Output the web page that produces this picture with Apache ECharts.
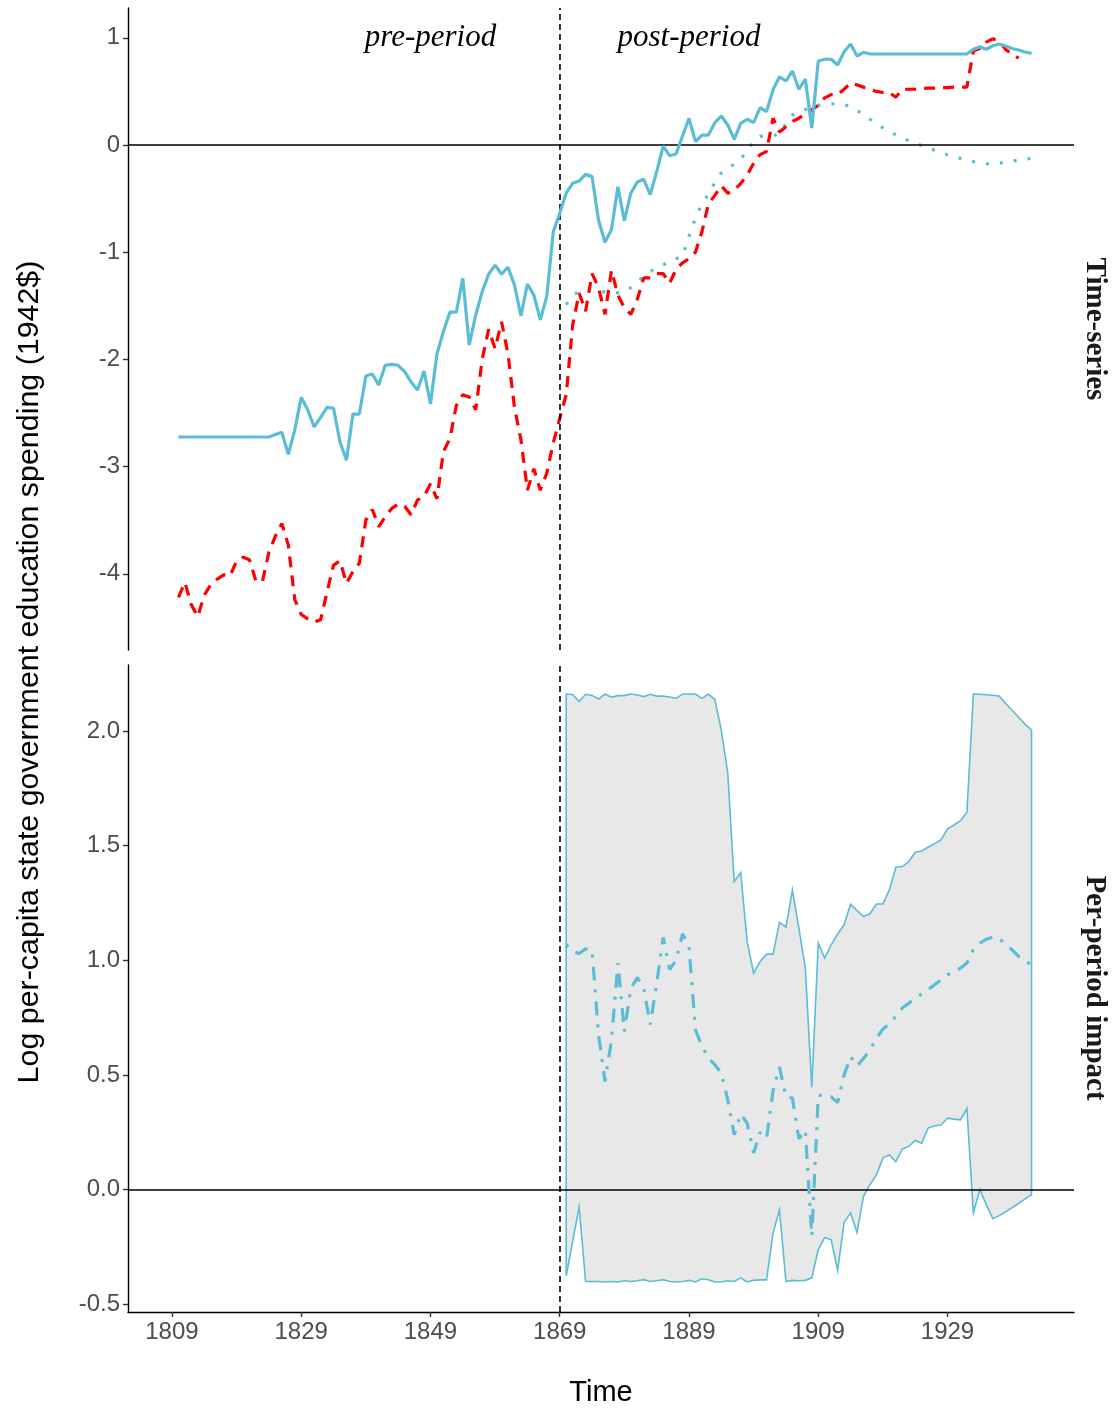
<!DOCTYPE html>
<html>
<head>
<meta charset="utf-8">
<script src="https://cdn.jsdelivr.net/npm/echarts@6/dist/echarts.min.js"></script>
<style>
html,body{margin:0;padding:0;background:#fff;}
#chart{width:1114px;height:1410px;}
</style>
</head>
<body>
<div id="chart"></div>
<script>
// ---- data ----
const xTicks = [1809, 1829, 1849, 1869, 1889, 1909, 1929];
const topTicks = [-4, -3, -2, -1, 0, 1];
const bottomTicks = [-0.5, 0, 0.5, 1, 1.5, 2];
const treatmentYear = 1869;

// Top panel: treated unit (solid blue), 1810-1942
const treatedStart = 1810;
const treated = [
  -2.724,-2.724,-2.724,-2.724,-2.724,-2.724,-2.724,-2.724,-2.724,-2.724,
  -2.724,-2.724,-2.724,-2.724,-2.724,-2.70,-2.68,-2.885,-2.66,-2.354,
  -2.47,-2.63,-2.54,-2.447,-2.456,-2.77,-2.94,-2.51,-2.51,-2.155,
  -2.136,-2.24,-2.055,-2.046,-2.055,-2.114,-2.21,-2.285,-2.108,-2.416,
  -1.95,-1.74,-1.56,-1.56,-1.244,-1.866,-1.586,-1.368,-1.206,-1.12,
  -1.206,-1.14,-1.306,-1.595,-1.297,-1.40,-1.632,-1.41,-0.81,-0.637,
  -0.45,-0.357,-0.336,-0.274,-0.295,-0.70,-0.908,-0.79,-0.389,-0.706,
  -0.45,-0.345,-0.32,-0.463,-0.25,-0.01,-0.10,-0.084,0.084,0.249,
  0.031,0.093,0.093,0.208,0.27,0.187,0.053,0.202,0.24,0.208,
  0.348,0.311,0.515,0.637,0.597,0.69,0.52,0.614,0.158,0.784,
  0.80,0.80,0.746,0.87,0.942,0.83,0.865,0.849,0.849,0.849,
  0.849,0.849,0.849,0.849,0.849,0.849,0.849,0.849,0.849,0.849,
  0.849,0.849,0.849,0.893,0.917,0.893,0.926,0.942,0.923,0.90,
  0.886,0.868,0.855
];

// Top panel: synthetic comparison (red dashed), 1810-1940
const syntheticStart = 1810;
const synthetic = [
  -4.22,-4.08,-4.29,-4.40,-4.20,-4.10,-4.05,-4.01,-4.02,-3.88,
  -3.845,-3.87,-4.07,-4.07,-3.80,-3.65,-3.53,-3.73,-4.24,-4.38,
  -4.42,-4.45,-4.43,-4.17,-3.92,-3.88,-4.09,-3.98,-3.90,-3.50,
  -3.40,-3.56,-3.47,-3.39,-3.35,-3.37,-3.45,-3.31,-3.28,-3.16,
  -3.30,-2.86,-2.74,-2.43,-2.33,-2.35,-2.47,-2.00,-1.72,-1.90,
  -1.65,-1.95,-2.45,-2.75,-3.22,-3.02,-3.22,-3.06,-2.78,-2.55,
  -2.33,-1.68,-1.38,-1.55,-1.20,-1.33,-1.58,-1.17,-1.40,-1.52,
  -1.58,-1.44,-1.24,-1.24,-1.20,-1.20,-1.29,-1.16,-1.10,-1.06,
  -1.00,-0.81,-0.55,-0.47,-0.38,-0.45,-0.42,-0.36,-0.28,-0.17,
  -0.09,-0.06,0.25,0.12,0.17,0.22,0.25,0.29,0.33,0.37,
  0.44,0.47,0.47,0.52,0.58,0.56,0.54,0.52,0.50,0.49,
  0.49,0.445,0.52,0.52,0.52,0.525,0.53,0.53,0.535,0.535,
  0.54,0.54,0.54,0.88,0.90,0.96,0.99,0.97,0.89,0.85,
  0.81
];

// Top panel: counterfactual prediction (blue dotted), 1870-1942
const predictedStart = 1870;
const predicted = [
  -1.49,-1.40,-1.37,-1.36,-1.36,-1.37,-1.37,-1.38,-1.38,-1.37,
  -1.33,-1.28,-1.22,-1.18,-1.15,-1.12,-1.08,-1.06,-1.04,-0.85,
  -0.68,-0.55,-0.46,-0.35,-0.26,-0.21,-0.18,-0.13,-0.06,0.04,
  0.08,0.085,0.09,0.10,0.20,0.28,0.30,0.33,0.36,0.37,
  0.38,0.385,0.38,0.375,0.36,0.32,0.29,0.24,0.20,0.16,
  0.13,0.095,0.062,0.04,0.017,-0.005,-0.027,-0.05,-0.07,-0.092,
  -0.108,-0.125,-0.145,-0.155,-0.163,-0.175,-0.178,-0.17,-0.16,-0.15,
  -0.14,-0.132,-0.125
];

// Bottom panel: per-period impact (dot-dash) and interval bounds, 1870-1942
const impactStart = 1870;
const impact = [
  1.068,1.040,1.030,1.050,1.045,0.678,0.472,0.65,0.988,0.69,
  0.878,0.925,0.88,0.72,0.90,1.10,0.96,1.00,1.115,1.06,
  0.697,0.625,0.574,0.545,0.508,0.392,0.24,0.33,0.29,0.16,
  0.25,0.225,0.43,0.535,0.405,0.40,0.222,0.26,-0.203,0.41,
  0.415,0.405,0.38,0.50,0.58,0.54,0.572,0.61,0.66,0.70,
  0.723,0.755,0.792,0.813,0.835,0.853,0.872,0.894,0.915,0.937,
  0.951,0.966,0.988,1.046,1.075,1.092,1.101,1.096,1.068,1.046,
  1.017,0.998,0.98
];
const upperBound = [
  2.161,2.159,2.128,2.160,2.155,2.139,2.161,2.147,2.154,2.154,
  2.161,2.157,2.150,2.160,2.152,2.152,2.148,2.142,2.161,2.161,
  2.161,2.142,2.161,2.138,2.004,1.815,1.343,1.383,1.082,0.944,
  0.995,1.027,1.027,1.166,1.145,1.307,1.140,0.966,0.447,1.075,
  1.010,1.068,1.115,1.155,1.245,1.217,1.191,1.203,1.246,1.246,
  1.307,1.406,1.409,1.430,1.471,1.477,1.493,1.509,1.525,1.573,
  1.590,1.609,1.646,2.161,2.160,2.158,2.156,2.152,2.120,2.090,
  2.060,2.030,2.004
];
const lowerBound = [
  -0.375,-0.225,-0.075,-0.400,-0.400,-0.400,-0.402,-0.400,-0.402,-0.397,
  -0.400,-0.397,-0.392,-0.400,-0.397,-0.392,-0.400,-0.402,-0.400,-0.395,
  -0.402,-0.388,-0.392,-0.402,-0.402,-0.397,-0.400,-0.384,-0.402,-0.395,
  -0.393,-0.393,-0.189,-0.087,-0.400,-0.395,-0.397,-0.395,-0.384,-0.261,
  -0.208,-0.218,-0.352,-0.142,-0.101,-0.186,-0.029,0.022,0.065,0.138,
  0.152,0.123,0.178,0.189,0.215,0.203,0.269,0.279,0.282,0.312,
  0.308,0.305,0.353,-0.101,0.000,-0.065,-0.126,-0.113,-0.096,-0.078,
  -0.060,-0.040,-0.022
];

const periodLabels = [
  { name: 'pre-period', year: 1849, value: 1 },
  { name: 'post-period', year: 1889, value: 1 }
];
const panelNames = ['Time-series', 'Per-period impact'];

// ---- chart ----
const BLUE = '#5BBCD6';
const RED = '#FF0000';
const pairs = (start, arr) => arr.map((v, i) => [start + i, v]);

const X_MIN = 1802.2, X_MAX = 1948.57;
const grids = [
  { left: 128, top: 8, width: 946, height: 642 },
  { left: 128, top: 665, width: 946, height: 647 }
];

const axisLineStyle = { color: '#000', width: 1.4 };
const tickStyle = { color: '#333', width: 1.4 };
const labelStyle = { color: '#4D4D4D', fontSize: 24, fontFamily: 'Liberation Sans, Arial, sans-serif' };

function refLines() {
  return {
    silent: true,
    symbol: 'none',
    label: { show: false },
    animation: false,
    data: [
      { yAxis: 0, lineStyle: { color: '#000', width: 1.6, type: 'solid' } },
      { xAxis: treatmentYear, lineStyle: { color: '#000', width: 1.6, type: [6, 4] } }
    ]
  };
}

const bandSeries = {
  type: 'custom',
  xAxisIndex: 1, yAxisIndex: 1,
  silent: true,
  z: 1,
  data: [[impactStart, 0]],
  encode: { x: 0, y: 1 },
  renderItem: function (params, api) {
    const pts = [];
    for (let i = 0; i < upperBound.length; i++) pts.push(api.coord([impactStart + i, upperBound[i]]));
    for (let i = lowerBound.length - 1; i >= 0; i--) pts.push(api.coord([impactStart + i, lowerBound[i]]));
    return {
      type: 'polygon',
      shape: { points: pts },
      style: { fill: '#E8E8E8', stroke: BLUE, lineWidth: 1.6 }
    };
  }
};

const option = {
  animation: false,
  backgroundColor: '#fff',
  grid: grids,
  xAxis: [
    { gridIndex: 0, type: 'value', min: X_MIN, max: X_MAX, show: false, splitLine: { show: false } },
    {
      gridIndex: 1, type: 'value', min: X_MIN, max: X_MAX,
      axisLine: { show: true, onZero: false, lineStyle: axisLineStyle },
      axisTick: { show: true, customValues: xTicks, length: 5, lineStyle: tickStyle },
      axisLabel: Object.assign({ customValues: xTicks, margin: 8, formatter: v => String(v) }, labelStyle),
      splitLine: { show: false }
    }
  ],
  yAxis: [
    {
      gridIndex: 0, type: 'value', min: -4.711, max: 1.278,
      axisLine: { show: true, onZero: false, lineStyle: axisLineStyle },
      axisTick: { show: true, customValues: topTicks, length: 5, lineStyle: tickStyle },
      axisLabel: Object.assign({ customValues: topTicks, margin: 8, formatter: v => String(v) }, labelStyle),
      splitLine: { show: false }
    },
    {
      gridIndex: 1, type: 'value', min: -0.533, max: 2.2876,
      axisLine: { show: true, onZero: false, lineStyle: axisLineStyle },
      axisTick: { show: true, customValues: bottomTicks, length: 5, lineStyle: tickStyle },
      axisLabel: Object.assign({ customValues: bottomTicks, margin: 8, formatter: v => v.toFixed(1) }, labelStyle),
      splitLine: { show: false }
    }
  ],
  series: [
    {
      type: 'line', xAxisIndex: 0, yAxisIndex: 0, z: 3,
      data: pairs(predictedStart, predicted),
      showSymbol: false, symbol: 'none',
      lineStyle: { color: BLUE, width: 3.2, type: [3, 11] }
    },
    {
      type: 'line', xAxisIndex: 0, yAxisIndex: 0, z: 4,
      data: pairs(syntheticStart, synthetic),
      showSymbol: false, symbol: 'none',
      lineStyle: { color: RED, width: 3.2, type: [11, 8] }
    },
    {
      type: 'line', xAxisIndex: 0, yAxisIndex: 0, z: 5,
      data: pairs(treatedStart, treated),
      showSymbol: false, symbol: 'none',
      lineStyle: { color: BLUE, width: 3.2 },
      markLine: refLines(),
      markPoint: {
        symbol: 'circle', symbolSize: 0, silent: true,
        label: {
          show: true, position: 'inside', formatter: p => p.name,
          color: '#000', fontSize: 31, fontStyle: 'italic',
          fontFamily: 'Liberation Serif, Times New Roman, serif'
        },
        data: periodLabels.map(d => ({ name: d.name, coord: [d.year, d.value] }))
      }
    },
    bandSeries,
    {
      type: 'line', xAxisIndex: 1, yAxisIndex: 1, z: 5,
      data: pairs(impactStart, impact),
      showSymbol: false, symbol: 'none',
      lineStyle: { color: BLUE, width: 3.2, type: [3, 9, 14, 9] },
      markLine: refLines()
    }
  ],
  graphic: [
    {
      type: 'text', x: 30, y: 672, rotation: Math.PI / 2,
      style: {
        text: 'Log per-capita state government education spending (1942$)',
        fill: '#000', fontSize: 30.4, fontFamily: 'Liberation Sans, Arial, sans-serif',
        align: 'center', verticalAlign: 'middle'
      }
    },
    {
      type: 'text', x: 601, y: 1393,
      style: {
        text: 'Time', fill: '#000', fontSize: 29,
        fontFamily: 'Liberation Sans, Arial, sans-serif',
        align: 'center', verticalAlign: 'middle'
      }
    },
    {
      type: 'text', x: 1094, y: 329, rotation: -Math.PI / 2,
      style: {
        text: panelNames[0], fill: '#1a1a1a', fontSize: 29, fontWeight: 'bold',
        fontFamily: 'Liberation Serif, Times New Roman, serif',
        align: 'center', verticalAlign: 'middle'
      }
    },
    {
      type: 'text', x: 1094, y: 988, rotation: -Math.PI / 2,
      style: {
        text: panelNames[1], fill: '#1a1a1a', fontSize: 29, fontWeight: 'bold',
        fontFamily: 'Liberation Serif, Times New Roman, serif',
        align: 'center', verticalAlign: 'middle'
      }
    }
  ]
};

const chart = echarts.init(document.getElementById('chart'), null, { renderer: 'canvas' });
chart.setOption(option);
</script>
</body>
</html>
